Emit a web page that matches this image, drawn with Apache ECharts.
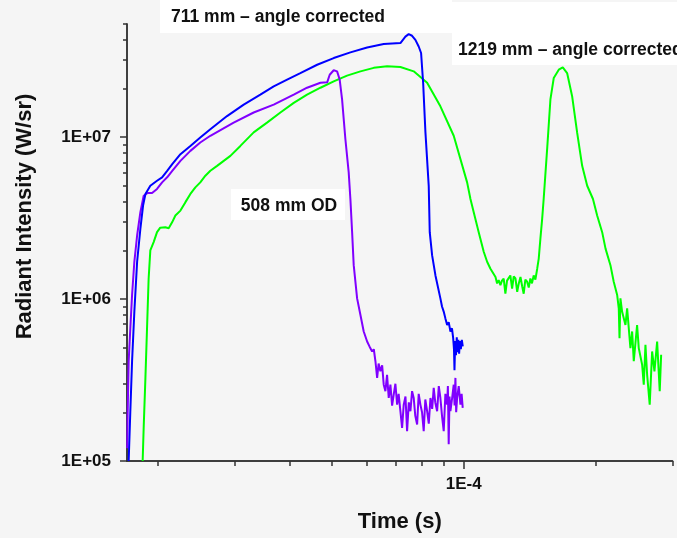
<!DOCTYPE html>
<html>
<head>
<meta charset="utf-8">
<script src="https://cdn.jsdelivr.net/npm/echarts@6/dist/echarts.min.js"></script>
<style>
    html, body { margin: 0; padding: 0; background: #f5f5f5; }
    #main { width: 677px; height: 538px; }
</style>
</head>
<body>
<div id="main"></div>
<script>
// times in microseconds, radiant intensity in W/sr
var blueTime = [17.15, 17.3, 17.46, 17.67, 17.93, 18.24, 18.5, 18.73, 19.22, 19.91, 20.45, 21.0, 21.57, 22.52, 23.73, 25.0, 26.36,
    28.78, 31.42, 34.29, 36.79, 39.48, 42.33, 46.24, 50.45, 55.08, 60.15, 65.64, 71.66, 73.57, 74.86, 76.2, 77.54, 78.9, 79.9,
    80.77, 81.75, 83.18, 83.62, 84.68, 86.17, 88.44, 89.2, 90.0, 90.8, 91.64, 92.4, 93.24, 94.0, 94.6, 95.0, 95.25, 95.6, 96.0,
    96.4, 96.8, 97.2, 97.6, 98.0, 98.5, 99.0, 99.5];
var blueValue = [1.0e5, 2.03e5, 4.13e5, 8.37e5, 1.70e6, 2.72e6, 3.78e6, 4.46e6, 5.01e6, 5.38e6, 5.65e6, 6.2e6, 6.82e6, 7.85e6, 8.83e6, 9.94e6, 1.12e7,
    1.35e7, 1.59e7, 1.83e7, 2.06e7, 2.27e7, 2.49e7, 2.80e7, 3.08e7, 3.34e7, 3.58e7, 3.76e7, 3.81e7, 4.18e7, 4.33e7, 4.23e7, 3.99e7, 3.63e7, 3.31e7,
    2.17e7, 1.07e7, 5.0e6, 2.59e6, 1.86e6, 1.40e6, 1.01e6, 9.0e5, 8.37e5, 7.6e5, 6.92e5, 7.2e5, 6.31e5, 6.6e5, 5.74e5, 4.9e5, 3.63e5, 5.5e5, 4.5e5,
    5.8e5, 4.7e5, 5.6e5, 4.6e5, 5.5e5, 4.9e5, 5.6e5, 5.1e5];

var purpleTime = [17.02, 17.06, 17.15, 17.3, 17.46, 17.67, 17.93, 18.24, 18.56, 18.95, 19.4, 19.91, 20.45, 21.0, 21.57, 22.52, 23.73, 25.0, 26.36,
    29.8, 33.11, 36.79, 40.88, 43.85, 47.05, 48.74, 49.4, 50.45, 51.35, 52.06, 52.72, 53.65, 54.59, 55.08, 55.58, 56.05, 57.06, 58.07, 59.08,
    60.15, 60.9, 61.75, 62.3, 62.84, 63.4, 63.9, 64.5, 65.1, 65.64, 66.22, 66.8, 67.39, 67.99, 68.6, 69.18, 69.8, 70.43, 71.0, 71.66, 72.3,
    72.92, 73.6, 74.23, 74.9, 75.54, 76.2, 76.86, 77.5, 78.25, 78.9, 79.61, 80.3, 81.01, 81.7, 82.48, 83.2, 83.94, 84.7, 85.39, 86.1, 86.94,
    87.7, 88.44, 89.2, 90.01, 90.8, 91.64, 92.0, 92.4, 92.8, 93.24, 94.0, 94.87, 95.3, 95.72, 96.1, 96.58, 97.4, 98.28, 98.9, 99.47];
var purpleValue = [1.2e5, 2.0e5, 4.13e5, 6.61e5, 1.06e6, 1.70e6, 2.47e6, 3.44e6, 4.35e6, 4.52e6, 4.52e6, 4.79e6, 5.26e6, 5.65e6, 6.2e6, 7.14e6, 8.23e6, 9.27e6, 1.02e7,
    1.23e7, 1.42e7, 1.59e7, 1.83e7, 2.02e7, 2.17e7, 2.18e7, 2.43e7, 2.59e7, 2.55e7, 2.27e7, 1.71e7, 9.71e6, 6.06e6, 4.15e6, 2.59e6, 1.62e6, 1.01e6, 7.98e5, 6.31e5,
    5.47e5, 5.1e5, 4.75e5, 4.9e5, 4.13e5, 3.26e5, 4.0e5, 3.58e5, 3.9e5, 2.96e5, 2.70e5, 3.4e5, 2.45e5, 2.96e5, 2.2e5, 2.57e5, 3.0e5, 2.23e5, 2.6e5, 2.03e5, 1.6e5,
    2.23e5, 2.5e5, 1.53e5, 2.3e5, 2.03e5, 2.7e5, 2.45e5, 1.9e5, 1.68e5, 2.6e5, 2.23e5, 2.0e5, 1.53e5, 2.4e5, 2.03e5, 1.7e5, 2.45e5, 2.1e5, 2.83e5, 2.3e5, 2.03e5,
    2.9e5, 2.45e5, 1.9e5, 1.53e5, 2.6e5, 2.23e5, 2.9e5, 1.27e5, 2.5e5, 2.03e5, 2.4e5, 2.96e5, 2.2e5, 3.26e5, 2.0e5, 2.45e5, 2.9e5, 2.23e5, 2.6e5, 2.13e5];

var greenTime = [18.46, 18.56, 18.73, 18.89, 19.05, 19.22, 19.56, 19.91, 20.25, 20.8, 21.17, 21.57, 21.93, 22.52, 23.12, 23.73, 24.36, 25.0, 25.68, 26.36,
    27.31, 28.28, 29.29, 30.87, 33.11, 35.52, 38.11, 40.88, 43.85, 47.05, 50.45, 54.12, 58.07, 62.28, 66.83, 71.66, 76.86, 82.48, 88.44, 94.87,
    101.8, 103.6, 105.4, 108.2, 111.1, 113.1, 115.1, 118.2, 119.2, 120.2, 121.3, 122.3, 123.4, 124.5, 125.6, 126.7, 127.8, 129.0, 130.1, 131.3,
    132.5, 133.6, 134.8, 136.0, 137.1, 138.3, 139.6, 140.8, 142.0, 143.2, 144.5, 145.8, 147.2, 148.4, 149.7, 151.1, 152.3, 155.1, 157.8, 160.6,
    164.9, 168.4, 172.3, 176.9, 181.6, 186.5, 191.5, 197.4, 201.8, 207.2, 210.9, 216.4, 220.2, 224.2, 226.1, 227.0, 228.1, 230.1, 234.2, 236.3,
    240.4, 242.6, 244.7, 249.0, 251.2, 255.7, 257.9, 260.2, 262.5, 266.1, 269.5, 272.8, 276.7, 280.5, 282.6];
var greenValue = [1.0e5, 1.61e5, 3.26e5, 6.61e5, 1.34e6, 2.0e6, 2.25e6, 2.59e6, 2.76e6, 2.78e6, 2.74e6, 2.99e6, 3.28e6, 3.52e6, 3.97e6, 4.46e6, 4.90e6, 5.26e6, 5.78e6, 6.2e6,
    6.65e6, 7.14e6, 7.66e6, 8.83e6, 1.07e7, 1.23e7, 1.42e7, 1.63e7, 1.83e7, 2.02e7, 2.21e7, 2.40e7, 2.55e7, 2.68e7, 2.74e7, 2.71e7, 2.55e7, 2.17e7, 1.55e7, 1.02e7,
    5.26e6, 4.15e6, 3.44e6, 2.59e6, 1.96e6, 1.70e6, 1.54e6, 1.37e6, 1.25e6, 1.31e6, 1.22e6, 1.30e6, 1.34e6, 1.08e6, 1.30e6, 1.28e6, 1.40e6, 1.16e6, 1.38e6, 1.34e6,
    1.11e6, 1.25e6, 1.37e6, 1.20e6, 1.08e6, 1.32e6, 1.28e6, 1.18e6, 1.34e6, 1.25e6, 1.40e6, 1.32e6, 1.54e6, 1.78e6, 2.36e6, 3.13e6, 4.15e6, 8.43e6, 1.71e7, 2.32e7,
    2.61e7, 2.70e7, 2.49e7, 1.79e7, 1.07e7, 6.65e6, 5.01e6, 4.15e6, 3.28e6, 2.59e6, 2.05e6, 1.62e6, 1.28e6, 1.06e6, 8.77e5, 5.74e5, 1.01e6, 8.37e5, 6.92e5, 8.77e5,
    4.98e5, 6.31e5, 4.13e5, 6.92e5, 4.98e5, 3.93e5, 2.96e5, 5.22e5, 3.41e5, 2.23e5, 4.75e5, 3.58e5, 5.47e5, 2.70e5, 4.53e5];

var xMajorTicks = [1e-4];
var xMinorTicks = [2e-5, 3e-5, 4e-5, 5e-5, 6e-5, 7e-5, 8e-5, 9e-5, 2e-4, 3e-4];
var yMajorTicks = [1e5, 1e6, 1e7];
var yMinorTicks = [2e5, 3e5, 4e5, 5e5, 6e5, 7e5, 8e5, 9e5, 2e6, 3e6, 4e6, 5e6, 6e6, 7e6, 8e6, 9e6, 2e7, 3e7, 4e7, 5e7];

function pairs(times, values) {
    var out = [];
    for (var i = 0; i < times.length; i++) {
        out.push([times[i] * 1e-6, values[i]]);
    }
    return out;
}

var font = 'Liberation Sans, Arial, sans-serif';
var axisColor = '#333333';

function xAxisBase(ticks, len) {
    return {
        type: 'log', logBase: 10, min: 1.7e-5, max: 3e-4,
        gridIndex: 0, position: 'bottom',
        axisLine: { show: true, lineStyle: { color: axisColor, width: 1.5 } },
        axisTick: { show: true, customValues: ticks, length: len, lineStyle: { color: axisColor, width: 1.5 } },
        splitLine: { show: false },
        axisLabel: { show: false }
    };
}
function yAxisBase(ticks, len) {
    return {
        type: 'log', logBase: 10, min: 1e5, max: 5e7,
        gridIndex: 0, position: 'left',
        axisLine: { show: true, lineStyle: { color: axisColor, width: 1.5 } },
        axisTick: { show: true, customValues: ticks, length: len, lineStyle: { color: axisColor, width: 1.5 } },
        splitLine: { show: false },
        axisLabel: { show: false }
    };
}

var xMain = xAxisBase(xMajorTicks, 8);
xMain.axisLabel = {
    show: true, customValues: xMajorTicks, margin: 15,
    fontFamily: font, fontWeight: 'bold', fontSize: 17, color: '#111',
    formatter: function (v) { return '1E' + Math.round(Math.log10(v)); }
};
xMain.name = 'Time (s)';
xMain.nameLocation = 'middle';
xMain.nameGap = 50;
xMain.nameTextStyle = { fontFamily: font, fontWeight: 'bold', fontSize: 22, color: '#111' };

var yMain = yAxisBase(yMajorTicks, 7);
yMain.axisLabel = {
    show: true, customValues: yMajorTicks, margin: 16,
    fontFamily: font, fontWeight: 'bold', fontSize: 17, color: '#111',
    formatter: function (v) { return '1E+0' + Math.round(Math.log10(v)); }
};
yMain.name = 'Radiant Intensity (W/sr)';
yMain.nameLocation = 'middle';
yMain.nameGap = 91;
yMain.nameTextStyle = { fontFamily: font, fontWeight: 'bold', fontSize: 22, color: '#111', padding: [0, 0, 0, 52] };

var labelStyle = { fontFamily: font, fontWeight: 'bold', fontSize: 17.5, fill: '#111' };

var option = {
    backgroundColor: '#f5f5f5',
    animation: false,
    grid: { left: 127, right: 4.5, top: 24, bottom: 74, containLabel: false },
    xAxis: [xMain, xAxisBase(xMinorTicks, 5)],
    yAxis: [yMain, yAxisBase(yMinorTicks, 4)],
    graphic: [
        { type: 'rect', z: 0, shape: { x: 160, y: 0, width: 292, height: 33 }, style: { fill: '#ffffff' } },
        { type: 'rect', z: 0, shape: { x: 452, y: 2, width: 225, height: 63 }, style: { fill: '#ffffff' } },
        { type: 'rect', z: 0, shape: { x: 231, y: 189, width: 114, height: 31 }, style: { fill: '#ffffff' } },
        { type: 'text', z: 1, style: Object.assign({ text: '711 mm – angle corrected', x: 278, y: 17, align: 'center', verticalAlign: 'middle' }, labelStyle) },
        { type: 'text', z: 1, style: Object.assign({ text: '1219 mm – angle corrected', x: 458, y: 50, align: 'left', verticalAlign: 'middle' }, labelStyle) },
        { type: 'text', z: 1, style: Object.assign({ text: '508 mm OD', x: 289, y: 206, align: 'center', verticalAlign: 'middle' }, labelStyle) }
    ],
    series: [
        { name: '1219 mm', type: 'line', data: pairs(greenTime, greenValue), showSymbol: false, symbol: 'none',
          lineStyle: { color: '#00ff00', width: 2 }, z: 3 },
        { name: '508 mm', type: 'line', data: pairs(purpleTime, purpleValue), showSymbol: false, symbol: 'none',
          lineStyle: { color: '#8000ff', width: 2 }, z: 4 },
        { name: '711 mm', type: 'line', data: pairs(blueTime, blueValue), showSymbol: false, symbol: 'none',
          lineStyle: { color: '#0000ff', width: 2 }, z: 5 }
    ]
};

var chart = echarts.init(document.getElementById('main'));
chart.setOption(option);
</script>
</body>
</html>
